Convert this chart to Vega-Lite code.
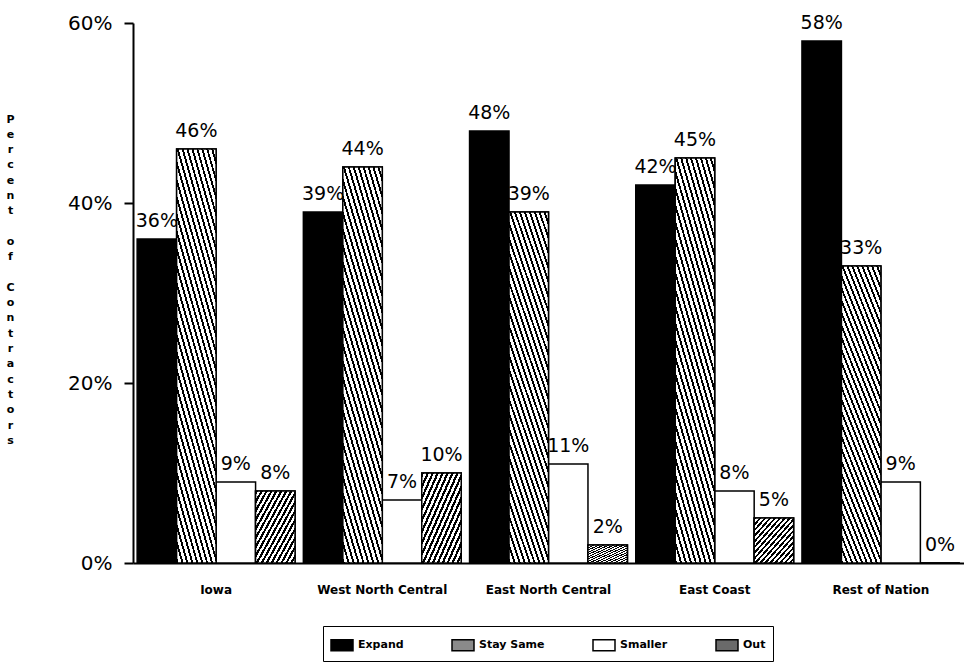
{
  "$schema": "https://vega.github.io/schema/vega-lite/v6.json",
  "autosize": {"type": "none"},
  "padding": {"left": 133, "top": 23, "right": 0, "bottom": 100},
  "width": 831,
  "height": 540,
  "background": "white",
  "config": {
    "view": {"stroke": null},
    "font": "DejaVu Sans",
    "axis": {"grid": false, "domainColor": "black", "tickColor": "black", "labelColor": "black", "titleColor": "black"}
  },
  "data": {
    "values": [
      {"region": "Iowa", "cat": "Expand", "pct": 0.36},
      {"region": "Iowa", "cat": "Stay Same", "pct": 0.46},
      {"region": "Iowa", "cat": "Smaller", "pct": 0.09},
      {"region": "Iowa", "cat": "Out", "pct": 0.08},
      {"region": "West North Central", "cat": "Expand", "pct": 0.39},
      {"region": "West North Central", "cat": "Stay Same", "pct": 0.44},
      {"region": "West North Central", "cat": "Smaller", "pct": 0.07},
      {"region": "West North Central", "cat": "Out", "pct": 0.10},
      {"region": "East North Central", "cat": "Expand", "pct": 0.48},
      {"region": "East North Central", "cat": "Stay Same", "pct": 0.39},
      {"region": "East North Central", "cat": "Smaller", "pct": 0.11},
      {"region": "East North Central", "cat": "Out", "pct": 0.02},
      {"region": "East Coast", "cat": "Expand", "pct": 0.42},
      {"region": "East Coast", "cat": "Stay Same", "pct": 0.45},
      {"region": "East Coast", "cat": "Smaller", "pct": 0.08},
      {"region": "East Coast", "cat": "Out", "pct": 0.05},
      {"region": "Rest of Nation", "cat": "Expand", "pct": 0.58},
      {"region": "Rest of Nation", "cat": "Stay Same", "pct": 0.33},
      {"region": "Rest of Nation", "cat": "Smaller", "pct": 0.09},
      {"region": "Rest of Nation", "cat": "Out", "pct": 0.0}
    ]
  },
  "encoding": {
    "x": {
      "field": "region", "type": "nominal",
      "sort": ["Iowa", "West North Central", "East North Central", "East Coast", "Rest of Nation"],
      "scale": {"paddingInner": 0.05, "paddingOuter": 0.025},
      "axis": {"title": null, "labelAngle": 0, "ticks": false, "domainWidth": 2, "labelPadding": 21, "labelFont": "DejaVu Sans", "labelFontWeight": "bold", "labelFontSize": 12}
    },
    "xOffset": {
      "field": "cat", "type": "nominal",
      "sort": ["Expand", "Stay Same", "Smaller", "Out"],
      "scale": {"domain": ["Expand", "Stay Same", "Smaller", "Out"], "paddingInner": 0, "paddingOuter": 0}
    },
    "y": {
      "field": "pct", "type": "quantitative",
      "scale": {"domain": [0, 0.6], "nice": false},
      "axis": {
        "values": [0, 0.2, 0.4, 0.6], "format": ".0%",
        "domainWidth": 2, "tickSize": 9, "tickWidth": 2, "labelPadding": 12,
        "labelFontSize": 20, "labelFont": "DejaVu Sans",
        "title": ["P","e","r","c","e","n","t","\u200b","o","f","\u200b","C","o","n","t","r","a","c","t","o","r","s"],
        "titleAngle": 0, "titleX": -123, "titleY": 90, "titleAlign": "center", "titleBaseline": "top",
        "titleLineHeight": 15.3, "titleFontSize": 11, "titleFontWeight": "bold", "titleFont": "DejaVu Sans"
      }
    }
  },
  "layer": [
    {
      "mark": {"type": "bar", "stroke": "black", "strokeWidth": 1.5},
      "encoding": {
        "fill": {
          "field": "cat", "type": "nominal",
          "sort": ["Expand", "Stay Same", "Smaller", "Out"],
          "scale": {
            "domain": ["Expand", "Stay Same", "Smaller", "Out"],
            "range": ["black", "#8a8a8a", "white", "#6a6a6a"]
          },
          "legend": {
            "title": null, "orient": "none", "legendX": 190, "legendY": 603, "direction": "horizontal",
            "strokeColor": "black", "padding": 7,
            "symbolType": "M-1,-0.5L1,-0.5L1,0.5L-1,0.5Z", "symbolSize": 484,
            "symbolStrokeColor": "black", "symbolStrokeWidth": 1.5, "symbolOpacity": 1,
            "labelFont": "DejaVu Sans", "labelFontWeight": "bold", "labelFontSize": 11, "labelColor": "black",
            "labelOffset": 4, "columnPadding": 45
          }
        }
      }
    },
    {
      "transform": [{"filter": "datum.cat === 'Stay Same'"}],
      "mark": {"type": "bar", "stroke": "black", "strokeWidth": 1.5,
        "fill": {"gradient": "linear", "x1": 0, "y1": 1, "x2": 0.4, "y2": -0.2, "stops": [
          {"offset": 0, "color": "black"}, {"offset": 0.0125, "color": "black"}, {"offset": 0.0125, "color": "white"}, {"offset": 0.03125, "color": "white"},
          {"offset": 0.03125, "color": "black"}, {"offset": 0.04375, "color": "black"}, {"offset": 0.04375, "color": "white"}, {"offset": 0.0625, "color": "white"},
          {"offset": 0.0625, "color": "black"}, {"offset": 0.075, "color": "black"}, {"offset": 0.075, "color": "white"}, {"offset": 0.09375, "color": "white"},
          {"offset": 0.09375, "color": "black"}, {"offset": 0.10625, "color": "black"}, {"offset": 0.10625, "color": "white"}, {"offset": 0.125, "color": "white"},
          {"offset": 0.125, "color": "black"}, {"offset": 0.1375, "color": "black"}, {"offset": 0.1375, "color": "white"}, {"offset": 0.15625, "color": "white"},
          {"offset": 0.15625, "color": "black"}, {"offset": 0.16875, "color": "black"}, {"offset": 0.16875, "color": "white"}, {"offset": 0.1875, "color": "white"},
          {"offset": 0.1875, "color": "black"}, {"offset": 0.2, "color": "black"}, {"offset": 0.2, "color": "white"}, {"offset": 0.21875, "color": "white"},
          {"offset": 0.21875, "color": "black"}, {"offset": 0.23125, "color": "black"}, {"offset": 0.23125, "color": "white"}, {"offset": 0.25, "color": "white"},
          {"offset": 0.25, "color": "black"}, {"offset": 0.2625, "color": "black"}, {"offset": 0.2625, "color": "white"}, {"offset": 0.28125, "color": "white"},
          {"offset": 0.28125, "color": "black"}, {"offset": 0.29375, "color": "black"}, {"offset": 0.29375, "color": "white"}, {"offset": 0.3125, "color": "white"},
          {"offset": 0.3125, "color": "black"}, {"offset": 0.325, "color": "black"}, {"offset": 0.325, "color": "white"}, {"offset": 0.34375, "color": "white"},
          {"offset": 0.34375, "color": "black"}, {"offset": 0.35625, "color": "black"}, {"offset": 0.35625, "color": "white"}, {"offset": 0.375, "color": "white"},
          {"offset": 0.375, "color": "black"}, {"offset": 0.3875, "color": "black"}, {"offset": 0.3875, "color": "white"}, {"offset": 0.40625, "color": "white"},
          {"offset": 0.40625, "color": "black"}, {"offset": 0.41875, "color": "black"}, {"offset": 0.41875, "color": "white"}, {"offset": 0.4375, "color": "white"},
          {"offset": 0.4375, "color": "black"}, {"offset": 0.45, "color": "black"}, {"offset": 0.45, "color": "white"}, {"offset": 0.46875, "color": "white"},
          {"offset": 0.46875, "color": "black"}, {"offset": 0.48125, "color": "black"}, {"offset": 0.48125, "color": "white"}, {"offset": 0.5, "color": "white"},
          {"offset": 0.5, "color": "black"}, {"offset": 0.5125, "color": "black"}, {"offset": 0.5125, "color": "white"}, {"offset": 0.53125, "color": "white"},
          {"offset": 0.53125, "color": "black"}, {"offset": 0.54375, "color": "black"}, {"offset": 0.54375, "color": "white"}, {"offset": 0.5625, "color": "white"},
          {"offset": 0.5625, "color": "black"}, {"offset": 0.575, "color": "black"}, {"offset": 0.575, "color": "white"}, {"offset": 0.59375, "color": "white"},
          {"offset": 0.59375, "color": "black"}, {"offset": 0.60625, "color": "black"}, {"offset": 0.60625, "color": "white"}, {"offset": 0.625, "color": "white"},
          {"offset": 0.625, "color": "black"}, {"offset": 0.6375, "color": "black"}, {"offset": 0.6375, "color": "white"}, {"offset": 0.65625, "color": "white"},
          {"offset": 0.65625, "color": "black"}, {"offset": 0.66875, "color": "black"}, {"offset": 0.66875, "color": "white"}, {"offset": 0.6875, "color": "white"},
          {"offset": 0.6875, "color": "black"}, {"offset": 0.7, "color": "black"}, {"offset": 0.7, "color": "white"}, {"offset": 0.71875, "color": "white"},
          {"offset": 0.71875, "color": "black"}, {"offset": 0.73125, "color": "black"}, {"offset": 0.73125, "color": "white"}, {"offset": 0.75, "color": "white"},
          {"offset": 0.75, "color": "black"}, {"offset": 0.7625, "color": "black"}, {"offset": 0.7625, "color": "white"}, {"offset": 0.78125, "color": "white"},
          {"offset": 0.78125, "color": "black"}, {"offset": 0.79375, "color": "black"}, {"offset": 0.79375, "color": "white"}, {"offset": 0.8125, "color": "white"},
          {"offset": 0.8125, "color": "black"}, {"offset": 0.825, "color": "black"}, {"offset": 0.825, "color": "white"}, {"offset": 0.84375, "color": "white"},
          {"offset": 0.84375, "color": "black"}, {"offset": 0.85625, "color": "black"}, {"offset": 0.85625, "color": "white"}, {"offset": 0.875, "color": "white"},
          {"offset": 0.875, "color": "black"}, {"offset": 0.8875, "color": "black"}, {"offset": 0.8875, "color": "white"}, {"offset": 0.90625, "color": "white"},
          {"offset": 0.90625, "color": "black"}, {"offset": 0.91875, "color": "black"}, {"offset": 0.91875, "color": "white"}, {"offset": 0.9375, "color": "white"},
          {"offset": 0.9375, "color": "black"}, {"offset": 0.95, "color": "black"}, {"offset": 0.95, "color": "white"}, {"offset": 0.96875, "color": "white"},
          {"offset": 0.96875, "color": "black"}, {"offset": 0.98125, "color": "black"}, {"offset": 0.98125, "color": "white"}, {"offset": 1, "color": "white"}
        ]}
      },
      "encoding": {}
    },
    {
      "transform": [{"filter": "datum.cat === 'Out'"}],
      "mark": {"type": "bar", "stroke": "black", "strokeWidth": 1.5,
        "fill": {"gradient": "linear", "x1": 0, "y1": 0, "x2": 1, "y2": 1, "stops": [
          {"offset": 0, "color": "black"}, {"offset": 0.03, "color": "black"}, {"offset": 0.03, "color": "white"}, {"offset": 0.0625, "color": "white"},
          {"offset": 0.0625, "color": "black"}, {"offset": 0.0925, "color": "black"}, {"offset": 0.0925, "color": "white"}, {"offset": 0.125, "color": "white"},
          {"offset": 0.125, "color": "black"}, {"offset": 0.155, "color": "black"}, {"offset": 0.155, "color": "white"}, {"offset": 0.1875, "color": "white"},
          {"offset": 0.1875, "color": "black"}, {"offset": 0.2175, "color": "black"}, {"offset": 0.2175, "color": "white"}, {"offset": 0.25, "color": "white"},
          {"offset": 0.25, "color": "black"}, {"offset": 0.28, "color": "black"}, {"offset": 0.28, "color": "white"}, {"offset": 0.3125, "color": "white"},
          {"offset": 0.3125, "color": "black"}, {"offset": 0.3425, "color": "black"}, {"offset": 0.3425, "color": "white"}, {"offset": 0.375, "color": "white"},
          {"offset": 0.375, "color": "black"}, {"offset": 0.405, "color": "black"}, {"offset": 0.405, "color": "white"}, {"offset": 0.4375, "color": "white"},
          {"offset": 0.4375, "color": "black"}, {"offset": 0.4675, "color": "black"}, {"offset": 0.4675, "color": "white"}, {"offset": 0.5, "color": "white"},
          {"offset": 0.5, "color": "black"}, {"offset": 0.53, "color": "black"}, {"offset": 0.53, "color": "white"}, {"offset": 0.5625, "color": "white"},
          {"offset": 0.5625, "color": "black"}, {"offset": 0.5925, "color": "black"}, {"offset": 0.5925, "color": "white"}, {"offset": 0.625, "color": "white"},
          {"offset": 0.625, "color": "black"}, {"offset": 0.655, "color": "black"}, {"offset": 0.655, "color": "white"}, {"offset": 0.6875, "color": "white"},
          {"offset": 0.6875, "color": "black"}, {"offset": 0.7175, "color": "black"}, {"offset": 0.7175, "color": "white"}, {"offset": 0.75, "color": "white"},
          {"offset": 0.75, "color": "black"}, {"offset": 0.78, "color": "black"}, {"offset": 0.78, "color": "white"}, {"offset": 0.8125, "color": "white"},
          {"offset": 0.8125, "color": "black"}, {"offset": 0.8425, "color": "black"}, {"offset": 0.8425, "color": "white"}, {"offset": 0.875, "color": "white"},
          {"offset": 0.875, "color": "black"}, {"offset": 0.905, "color": "black"}, {"offset": 0.905, "color": "white"}, {"offset": 0.9375, "color": "white"},
          {"offset": 0.9375, "color": "black"}, {"offset": 0.9675, "color": "black"}, {"offset": 0.9675, "color": "white"}, {"offset": 1, "color": "white"}
        ]}
      },
      "encoding": {}
    },
    {
      "mark": {"type": "text", "baseline": "alphabetic", "align": "center", "dy": -12, "fontSize": 19, "font": "DejaVu Sans", "color": "black"},
      "encoding": {
        "text": {"field": "pct", "type": "quantitative", "format": ".0%"}
      }
    }
  ]
}
